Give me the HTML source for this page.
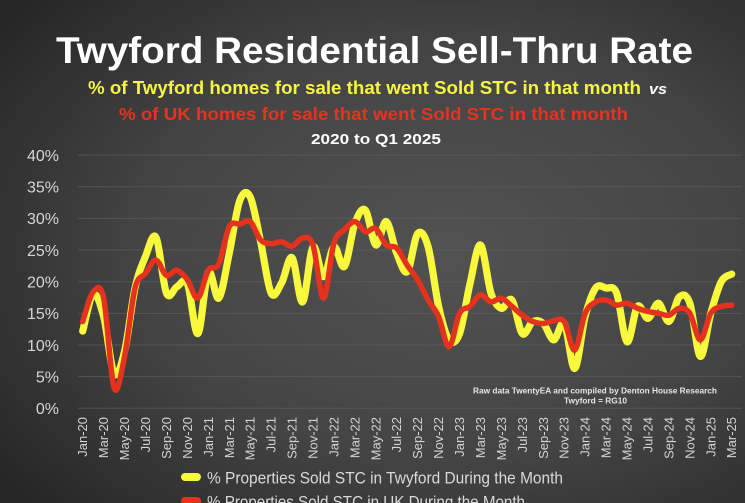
<!DOCTYPE html>
<html><head><meta charset="utf-8">
<style>
html,body{margin:0;padding:0;background:#333;}
svg{display:block;}
text{font-family:"Liberation Sans",Arial,sans-serif;}
</style></head>
<body>
<svg width="745" height="503" viewBox="0 0 745 503" xmlns="http://www.w3.org/2000/svg">
<defs>
<radialGradient id="bg" cx="0.6" cy="0.5" r="0.75">
<stop offset="0" stop-color="#525252"/>
<stop offset="0.55" stop-color="#444444"/>
<stop offset="1" stop-color="#262626"/>
</radialGradient>
</defs>
<rect x="0" y="0" width="745" height="503" fill="url(#bg)"/>

<!-- Titles -->
<text x="56" y="63" font-size="37" font-weight="bold" fill="#ffffff" textLength="637" lengthAdjust="spacingAndGlyphs">Twyford Residential Sell-Thru Rate</text>
<text x="88" y="94" font-size="18" font-weight="bold" fill="#f5f542" textLength="553" lengthAdjust="spacingAndGlyphs">% of Twyford homes for sale that went Sold STC in that month</text>
<text x="649" y="94" font-size="15" font-weight="bold" font-style="italic" fill="#ffffff" textLength="18" lengthAdjust="spacingAndGlyphs">vs</text>
<text x="119" y="120" font-size="17.5" font-weight="bold" fill="#e8321f" textLength="509" lengthAdjust="spacingAndGlyphs">% of UK homes for sale that went Sold STC in that month</text>
<text x="311" y="144" font-size="15" font-weight="bold" fill="#ffffff" textLength="130" lengthAdjust="spacingAndGlyphs">2020 to Q1 2025</text>

<!-- Gridlines -->
<g stroke="#5c5c5c" stroke-width="1" opacity="0.75">
<line x1="78" y1="155.1" x2="742" y2="155.1"/>
<line x1="78" y1="186.75" x2="742" y2="186.75"/>
<line x1="78" y1="218.4" x2="742" y2="218.4"/>
<line x1="78" y1="250.05" x2="742" y2="250.05"/>
<line x1="78" y1="281.7" x2="742" y2="281.7"/>
<line x1="78" y1="313.35" x2="742" y2="313.35"/>
<line x1="78" y1="345" x2="742" y2="345"/>
<line x1="78" y1="376.65" x2="742" y2="376.65"/>
<line x1="78" y1="408.3" x2="742" y2="408.3"/>
</g>

<!-- Y labels -->
<g font-size="16" fill="#d6d6d6" text-anchor="end">
<text x="59" y="161">40%</text>
<text x="59" y="192.6">35%</text>
<text x="59" y="224.2">30%</text>
<text x="59" y="255.9">25%</text>
<text x="59" y="287.5">20%</text>
<text x="59" y="319.2">15%</text>
<text x="59" y="350.8">10%</text>
<text x="59" y="382.5">5%</text>
<text x="59" y="414.1">0%</text>
</g>

<!-- X labels -->
<g font-size="13" fill="#d3d3d3" text-anchor="end">
<text transform="translate(87.2,417) rotate(-90)">Jan-20</text>
<text transform="translate(108.1,417) rotate(-90)">Mar-20</text>
<text transform="translate(129.1,417) rotate(-90)">May-20</text>
<text transform="translate(150.0,417) rotate(-90)">Jul-20</text>
<text transform="translate(170.9,417) rotate(-90)">Sep-20</text>
<text transform="translate(191.9,417) rotate(-90)">Nov-20</text>
<text transform="translate(212.8,417) rotate(-90)">Jan-21</text>
<text transform="translate(233.8,417) rotate(-90)">Mar-21</text>
<text transform="translate(254.7,417) rotate(-90)">May-21</text>
<text transform="translate(275.6,417) rotate(-90)">Jul-21</text>
<text transform="translate(296.6,417) rotate(-90)">Sep-21</text>
<text transform="translate(317.5,417) rotate(-90)">Nov-21</text>
<text transform="translate(338.4,417) rotate(-90)">Jan-22</text>
<text transform="translate(359.4,417) rotate(-90)">Mar-22</text>
<text transform="translate(380.3,417) rotate(-90)">May-22</text>
<text transform="translate(401.2,417) rotate(-90)">Jul-22</text>
<text transform="translate(422.2,417) rotate(-90)">Sep-22</text>
<text transform="translate(443.1,417) rotate(-90)">Nov-22</text>
<text transform="translate(464.0,417) rotate(-90)">Jan-23</text>
<text transform="translate(485.0,417) rotate(-90)">Mar-23</text>
<text transform="translate(505.9,417) rotate(-90)">May-23</text>
<text transform="translate(526.9,417) rotate(-90)">Jul-23</text>
<text transform="translate(547.8,417) rotate(-90)">Sep-23</text>
<text transform="translate(568.7,417) rotate(-90)">Nov-23</text>
<text transform="translate(589.7,417) rotate(-90)">Jan-24</text>
<text transform="translate(610.6,417) rotate(-90)">Mar-24</text>
<text transform="translate(631.5,417) rotate(-90)">May-24</text>
<text transform="translate(652.5,417) rotate(-90)">Jul-24</text>
<text transform="translate(673.4,417) rotate(-90)">Sep-24</text>
<text transform="translate(694.3,417) rotate(-90)">Nov-24</text>
<text transform="translate(715.3,417) rotate(-90)">Jan-25</text>
<text transform="translate(736.2,417) rotate(-90)">Mar-25</text>
</g>

<!-- Source note -->
<text x="473" y="393.3" font-size="8.5" font-weight="bold" fill="#e6e6e6" textLength="244" lengthAdjust="spacingAndGlyphs">Raw data TwentyEA and compiled by Denton House Research</text>
<text x="564" y="403.5" font-size="8.5" font-weight="bold" fill="#e6e6e6" textLength="63" lengthAdjust="spacingAndGlyphs">Twyford  = RG10</text>

<!-- Series -->
<g transform="translate(82.7,408.3) scale(10.468,-6.33)" fill="none" stroke-linecap="round" stroke-linejoin="round">
<path id="ys" vector-effect="non-scaling-stroke" stroke="#f8f83c" stroke-width="7.2" d="M0,12.2L1,18,2,14.5,3,5.5,4,9,5,19,6,24,7,27,8,18.2,9,19.2,10,19.7,11,11.8,12,21.5,13,17.4,14,24.5,15,32.8,16,33.4,17,26.3,18,18.2,19,19.8,20,23.8,21,16.8,22,25.5,23,20.8,24,25.5,25,22.4,26,29.2,27,31.3,28,25.8,29,29.5,30,24.5,31,21.6,32,27.6,33,25.5,34,16.1,35,10.8,36,11.8,37,19.7,38,25.8,39,18.2,40,15.8,41,17.1,42,11.8,43,13.7,44,13.4,45,10.8,46,13.4,47,6.3,48,14.5,49,19,50,19,51,18.2,52,10.5,53,16.1,54,14.2,55,16.6,56,13.7,57,17.6,58,16.6,59,8.2,60,15,61,20,62,21.2"/>
<path id="rs" vector-effect="non-scaling-stroke" stroke="#e5321e" stroke-width="5.5" d="M0,13.7L1,18.4,2,17.4,3,3.2,4,8.2,5,19,6,21.3,7,23.4,8,21,9,21.8,10,20.3,11,17.4,12,21.8,13,22.8,14,28.7,15,29.1,16,29.5,17,26.6,18,26,19,26.3,20,25.6,21,26.9,22,25.8,23,17.4,24,26.1,25,28.2,26,29.5,27,27.9,28,28.4,29,25.8,30,25.3,31,22.6,32,20.3,33,17.1,34,14.5,35,9.7,36,15,37,16.1,38,17.9,39,16.8,40,17.4,41,16.1,42,14.7,43,13.7,44,13.4,45,13.8,46,13.7,47,9.2,48,15,49,16.8,50,17.1,51,16.3,52,16.6,53,15.8,54,15.3,55,15,56,14.7,57,15.8,58,15,59,10.8,60,15,61,16.1,62,16.3"/>
</g>

<!-- Legend -->
<rect x="181" y="473" width="20" height="8" rx="4" fill="#f8f83c"/>
<text x="207" y="483.3" font-size="17" fill="#d9d9d9" textLength="356" lengthAdjust="spacingAndGlyphs">% Properties Sold STC in Twyford During the Month</text>
<rect x="181" y="497" width="20" height="8" rx="4" fill="#e5321e"/>
<text x="207" y="507.6" font-size="17" fill="#d9d9d9" textLength="318" lengthAdjust="spacingAndGlyphs">% Properties Sold STC in UK During the Month</text>
</svg>
<script>
(function(){
var Y=[12.2,18,14.5,5.5,9,19,24,27,18.2,19.2,19.7,11.8,21.5,17.4,24.5,32.8,33.4,26.3,18.2,19.8,23.8,16.8,25.5,20.8,25.5,22.4,29.2,31.3,25.8,29.5,24.5,21.6,27.6,25.5,16.1,10.8,11.8,19.7,25.8,18.2,15.8,17.1,11.8,13.7,13.4,10.8,13.4,6.3,14.5,19,19,18.2,10.5,16.1,14.2,16.6,13.7,17.6,16.6,8.2,15,20,21.2];
var R=[13.7,18.4,17.4,3.2,8.2,19,21.3,23.4,21,21.8,20.3,17.4,21.8,22.8,28.7,29.1,29.5,26.6,26,26.3,25.6,26.9,25.8,17.4,26.1,28.2,29.5,27.9,28.4,25.8,25.3,22.6,20.3,17.1,14.5,9.7,15,16.1,17.9,16.8,17.4,16.1,14.7,13.7,13.4,13.8,13.7,9.2,15,16.8,17.1,16.3,16.6,15.8,15.3,15,14.7,15.8,15,10.8,15,16.1,16.3];
function sm(v){var n=v.length,d="M0,"+v[0];
for(var i=0;i<n-1;i++){var a=Math.max(i-1,0),b=Math.min(i+2,n-1);
var c1x=i+(i+1-a)/6,c1y=v[i]+(v[i+1]-v[a])/6,c2x=i+1-(b-i)/6,c2y=v[i+1]-(v[b]-v[i])/6;
d+=" C"+c1x.toFixed(3)+","+c1y.toFixed(3)+" "+c2x.toFixed(3)+","+c2y.toFixed(3)+" "+(i+1)+","+v[i+1];}
return d;}
document.getElementById("ys").setAttribute("d",sm(Y));
document.getElementById("rs").setAttribute("d",sm(R));
})();
</script>
</body></html>
